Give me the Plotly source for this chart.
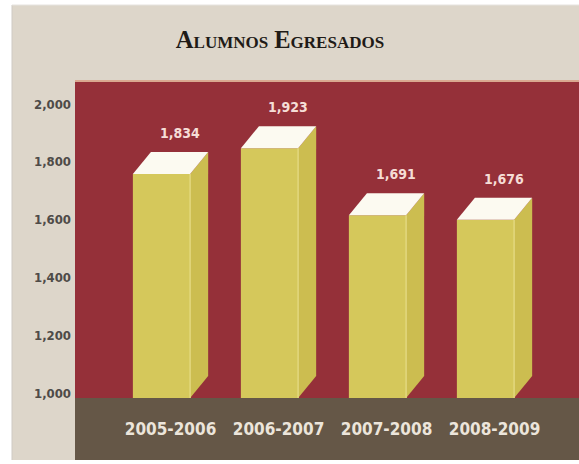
import plotly.graph_objects as go

# ---- data ----
categories = ["2005-2006", "2006-2007", "2007-2008", "2008-2009"]
values = [1834, 1923, 1691, 1676]
value_labels = ["1,834", "1,923", "1,691", "1,676"]
y_tick_values = [1000, 1200, 1400, 1600, 1800, 2000]
y_tick_labels = ["1,000", "1,200", "1,400", "1,600", "1,800", "2,000"]

# ---- geometry / style ----
W, H = 579, 464
PL, PR, PT, PB = 75, 579, 81, 398          # plot area in pixels
Y1000_PX, PX_PER_UNIT = 393, 0.289
y_lo = 1000 - (PB - Y1000_PX) / PX_PER_UNIT
y_hi = 1000 + (Y1000_PX - PT) / PX_PER_UNIT
SLOT_PX, FIRST_PX = 108.0, 161.5
x_lo = (PL - FIRST_PX) / SLOT_PX
x_hi = (PR - FIRST_PX) / SLOT_PX
BAR_W = 0.53
DX = 0.167
DY = 22 / PX_PER_UNIT

PW, PH = PR - PL, PB - PT


def px_x(px):
    return (px - PL) / PW


def px_y(py):
    return (PB - py) / PH


BEIGE = "#ddd6ca"
RED = "#953039"
BROWN = "#655747"
FRONT = "#d5c85b"
SIDE = "#ccbd50"
TOP = "#fcfaf1"
EDGE = "#e3d97f"
NARROW = "Liberation Sans Narrow, DejaVu Sans Condensed, Arial Narrow, Roboto Condensed, Liberation Sans, sans-serif"

fig = go.Figure()

for i, v in enumerate(values):
    xl, xr = i - BAR_W / 2, i + BAR_W / 2
    front_top = v - DY
    # front face
    fig.add_trace(go.Scatter(
        x=[xl, xr, xr, xl, xl], y=[y_lo, y_lo, front_top, front_top, y_lo],
        mode="lines", fill="toself", fillcolor=FRONT, line=dict(width=0),
        hoverinfo="skip", showlegend=False))
    # side face
    fig.add_trace(go.Scatter(
        x=[xr, xr + DX, xr + DX, xr, xr], y=[y_lo, y_lo + DY, v, front_top, y_lo],
        mode="lines", fill="toself", fillcolor=SIDE, line=dict(width=0),
        hoverinfo="skip", showlegend=False))
    # top face
    fig.add_trace(go.Scatter(
        x=[xl, xl + DX, xr + DX, xr, xl], y=[front_top, v, v, front_top, front_top],
        mode="lines", fill="toself", fillcolor=TOP, line=dict(width=0),
        hoverinfo="skip", showlegend=False))
    # highlight edge
    fig.add_trace(go.Scatter(
        x=[xr, xr], y=[y_lo, front_top], mode="lines",
        line=dict(color=EDGE, width=1.5), hoverinfo="skip", showlegend=False))
    fig.add_annotation(
        x=i + 0.17, y=v, yshift=19, yanchor="middle", xanchor="center",
        text=value_labels[i], showarrow=False,
        font=dict(family=NARROW, size=14, color="#f5ddd6", weight="bold"))

shapes = [
    # brown category strip
    dict(type="rect", xref="paper", yref="paper", x0=0, x1=1,
         y0=px_y(460), y1=0, fillcolor=BROWN, line=dict(width=0), layer="below"),
    # white borders
    dict(type="rect", xref="paper", yref="paper", x0=px_x(0), x1=px_x(12),
         y0=px_y(H), y1=px_y(0), fillcolor="white", line=dict(width=0), layer="below"),
    dict(type="rect", xref="paper", yref="paper", x0=px_x(0), x1=px_x(W),
         y0=px_y(5), y1=px_y(0), fillcolor="white", line=dict(width=0), layer="below"),
    dict(type="rect", xref="paper", yref="paper", x0=px_x(0), x1=px_x(W),
         y0=px_y(H), y1=px_y(460), fillcolor="white", line=dict(width=0), layer="below"),
    dict(type="line", xref="paper", yref="paper", x0=px_x(12), x1=px_x(12),
         y0=px_y(460), y1=px_y(5), line=dict(color="#cfcac4", width=1), layer="below"),
    dict(type="line", xref="paper", yref="paper", x0=px_x(12), x1=px_x(W),
         y0=px_y(5), y1=px_y(5), line=dict(color="#e6e3df", width=1), layer="below"),
    # light edge at top of the red panel
    dict(type="line", xref="paper", yref="paper", x0=0, x1=1, y0=1, y1=1,
         line=dict(color="#d9a890", width=2), layer="above"),
]

fig.update_layout(
    width=W, height=H,
    margin=dict(l=PL, r=W - PR, t=PT, b=H - PB, pad=0),
    paper_bgcolor=BEIGE, plot_bgcolor=RED,
    showlegend=False,
    shapes=shapes,
    title=dict(
        text="Alumnos Egresados", x=280 / W, xref="container", xanchor="center",
        y=1 - 39 / H, yref="container", yanchor="middle",
        font=dict(family="Liberation Serif, DejaVu Serif, serif", size=24.5,
                  color="#1f1b17", weight="bold", variant="small-caps")),
    xaxis=dict(
        range=[x_lo, x_hi], tickmode="array",
        tickvals=[i + DX / 2 for i in range(len(categories))], ticktext=categories,
        showgrid=False, zeroline=False, showline=False, ticks="",
        ticklabelstandoff=19,
        tickfont=dict(family=NARROW, size=17, color="#ece5db", weight="bold")),
    yaxis=dict(
        range=[y_lo, y_hi], tickmode="array",
        tickvals=y_tick_values, ticktext=y_tick_labels,
        showgrid=False, zeroline=False, showline=False, ticks="",
        ticklabelstandoff=3,
        tickfont=dict(family=NARROW, size=13, color="#4e4b48", weight="bold")),
)

fig.write_html("out.html", config={"displayModeBar": False},
               post_script="document.body.style.margin='0';")
